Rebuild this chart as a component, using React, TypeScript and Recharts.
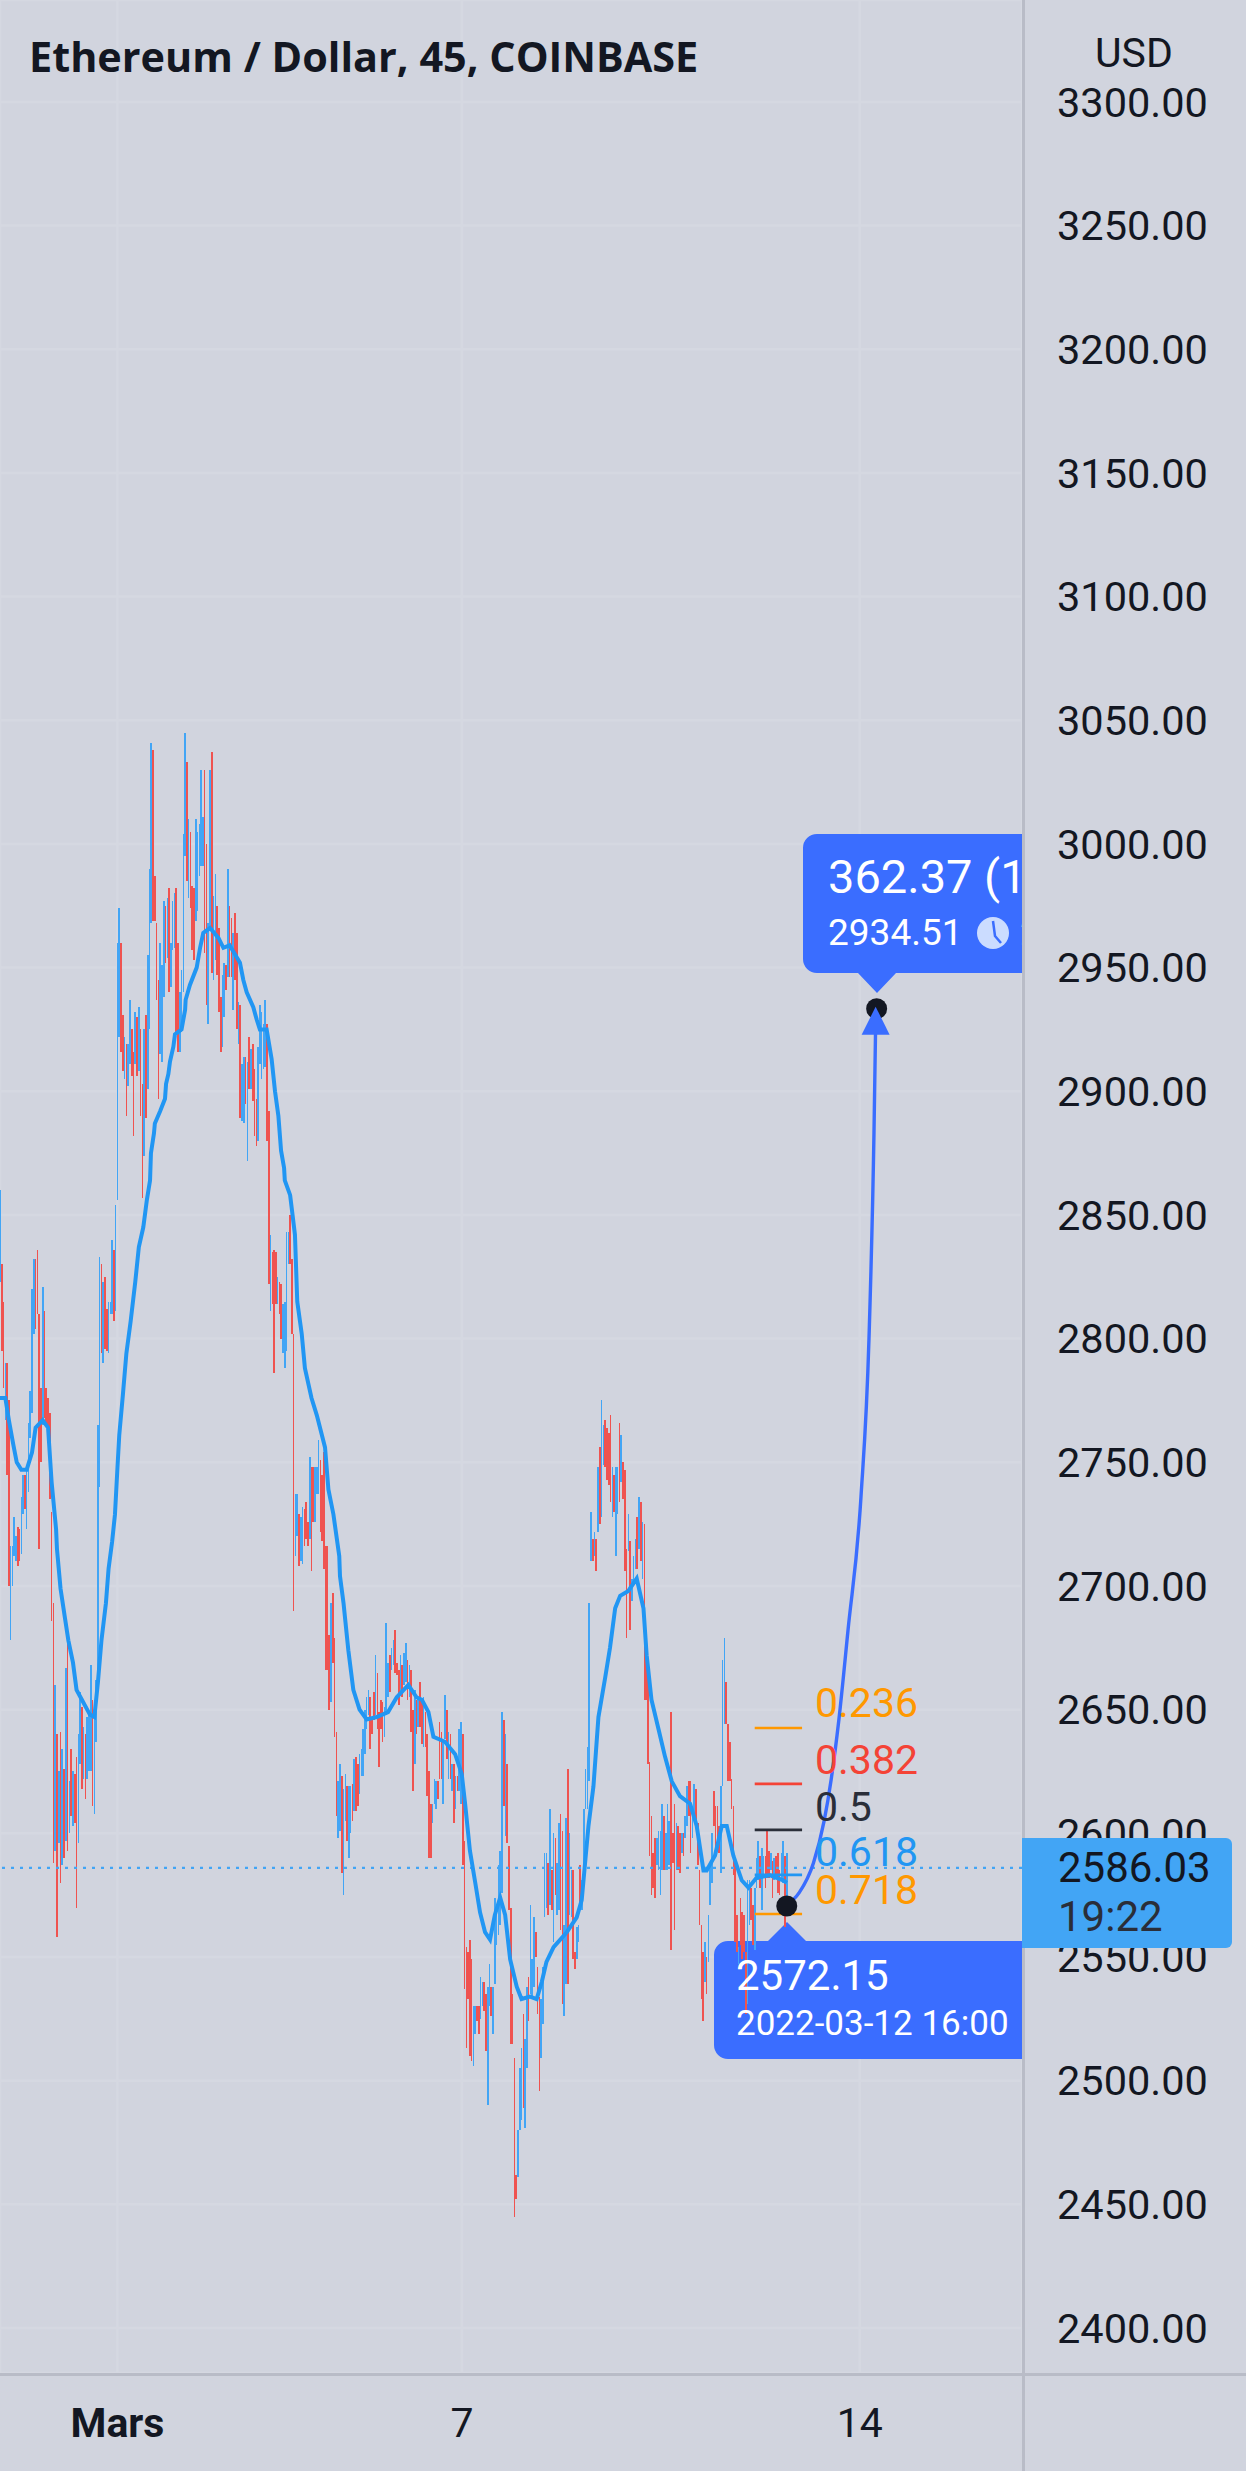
import { Bar, CartesianGrid, ComposedChart, Line, ReferenceDot, ReferenceLine, XAxis, YAxis } from 'recharts'

const BG = '#d1d4de'
const GRID = '#d5d8e1'
const AXIS = '#b9bcc7'
const UP = '#42a5f5'
const DOWN = '#ef5350'
const MA = '#2196f3'
const PIN = '#3a6dff'
const INK = '#131722'

const priceTicks = [2400, 2450, 2500, 2550, 2600, 2650, 2700, 2750, 2800, 2850, 2900, 2950, 3000, 3050, 3100, 3150, 3200, 3250, 3300]
const timeTicks = [66, 259.5, 483]
const timeLabels = ['Mars', '7', '14']

const opens = [
  2830,2830,2815,2767,2790,2770,2691,2700,2712,2710,
  2724,2723,2713,2729,2745,2738,2738,2770,2770,2802,
  2832,2836,2780,2780,2775,2811,2780,2776,2770,2730,
  2693,2593,2640,2596,2641,2587,2626,2597,2643,2600,
  2634,2603,2624,2631,2596,2628,2651,2622,2640,2628,
  2625,2636,2654,2608,2637,2740,2788,2830,2790,2825,
  2812,2794,2810,2810,2836,2811,2895,2922,2960,2931,
  2905,2919,2902,2911,2925,2916,2911,2930,2908,2925,
  2903,2874,2931,2901,2925,2971,3038,2987,2968,2945,
  2915,2912,2938,2975,2954,2982,2942,2957,2958,2982,
  2960,2916,2924,2940,2995,3033,2978,3005,2983,2982,
  2969,2973,2987,2991,2991,3001,3000,2927,2965,3037,
  2945,2953,2975,2966,2938,2918,2930,2951,2946,2975,
  2970,2933,2972,2964,2919,2935,2888,2887,2914,2905,
  2922,2901,2919,2909,2897,2880,2911,2905,2909,2910,
  2927,2892,2811,2835,2836,2835,2814,2823,2822,2794,
  2788,2795,2830,2850,2832,2802,2712,2720,2729,2710,
  2709,2731,2734,2726,2719,2748,2748,2726,2737,2737,
  2751,2745,2754,2716,2716,2680,2653,2697,2679,2641,
  2598,2601,2623,2575,2605,2619,2590,2600,2620,2609,
  2631,2628,2616,2623,2623,2632,2642,2648,2655,2647,
  2657,2648,2665,2649,2654,2653,2639,2648,2655,2672,
  2666,2668,2682,2669,2666,2657,2668,2660,2661,2670,
  2655,2666,2650,2628,2654,2643,2661,2654,2635,2649,
  2640,2625,2612,2604,2612,2610,2621,2645,2641,2612,
  2638,2650,2622,2640,2617,2628,2610,2623,2617,2612,
  2640,2597,2554,2552,2547,2549,2506,2519,2530,2530,
  2525,2530,2540,2535,2520,2530,2538,2519,2539,2555,
  2559,2563,2610,2646,2599,2628,2595,2570,2535,2509,
  2462,2461,2480,2484,2527,2481,2505,2542,2535,2534,
  2538,2560,2546,2534,2509,2523,2566,2570,2588,2571,
  2585,2556,2598,2567,2569,2608,2601,2526,2539,2626,
  2567,2566,2585,2552,2549,2556,2587,2569,2581,2610,
  2610,2686,2710,2719,2712,2719,2722,2756,2728,2749,
  2767,2764,2762,2769,2728,2745,2712,2729,2766,2742,
  2750,2747,2715,2714,2718,2694,2702,2707,2728,2715,
  2734,2703,2725,2675,2668,2629,2607,2592,2598,2587,
  2585,2575,2585,2607,2585,2585,2587,2620,2600,2612,
  2585,2603,2600,2592,2600,2598,2603,2621,2621,2598,
  2606,2618,2604,2585,2563,2552,2540,2550,2548,2571,
  2580,2617,2611,2611,2603,2584,2619,2644,2661,2644,
  2637,2622,2611,2589,2567,2547,2574,2568,2567,2552,
  2531,2563,2578,2571,2553,2578,2581,2591,2569,2582,
  2591,2601,2593,2585,2589,2581,2591,2592,2585,2582,2580,2591,2573,
]

const closes = [
  2850,2795,2780,2790,2745,2760,2715,2716,2728,2720,
  2708,2710,2736,2745,2731,2745,2766,2779,2820,2832,
  2804,2810,2748,2750,2790,2768,2765,2764,2735,2686,
  2588,2660,2588,2625,2580,2634,2590,2667,2595,2621,
  2607,2625,2604,2604,2640,2657,2630,2643,2614,2647,
  2648,2645,2611,2650,2662,2765,2819,2794,2823,2796,
  2795,2815,2815,2840,2807,2854,2927,2974,2916,2908,
  2922,2890,2919,2937,2906,2882,2932,2906,2934,2890,
  2857,2925,2889,2955,2990,2990,2969,2969,2937,2897,
  2960,2951,2977,2952,2978,2940,2960,2977,2980,2924,
  2916,2940,2949,3004,3032,2985,3010,2974,2957,2953,
  3010,3005,3008,3011,3011,2956,2935,2968,3030,2948,
  2979,2985,2947,2932,2916,2947,2952,2941,2990,2946,
  2946,2964,2945,2925,2936,2889,2911,2914,2895,2912,
  2901,2917,2896,2882,2878,2918,2935,2932,2927,2937,
  2880,2822,2842,2814,2814,2814,2825,2810,2800,2814,
  2815,2843,2843,2830,2802,2690,2737,2737,2708,2728,
  2732,2716,2719,2716,2752,2706,2726,2748,2748,2759,
  2722,2718,2707,2666,2666,2650,2693,2669,2639,2607,
  2621,2628,2584,2618,2624,2597,2619,2619,2605,2630,
  2609,2611,2632,2634,2642,2650,2655,2658,2634,2640,
  2646,2672,2642,2627,2642,2637,2651,2685,2669,2657,
  2675,2678,2665,2664,2652,2672,2655,2673,2677,2654,
  2668,2641,2617,2658,2640,2655,2643,2636,2655,2635,
  2615,2590,2590,2612,2622,2621,2614,2622,2622,2637,
  2656,2630,2641,2622,2628,2604,2623,2617,2642,2645,
  2587,2537,2513,2533,2535,2508,2530,2530,2524,2519,
  2542,2540,2528,2512,2530,2547,2526,2538,2574,2568,
  2587,2593,2649,2611,2640,2596,2569,2515,2515,2445,
  2452,2480,2505,2513,2489,2517,2538,2524,2571,2549,
  2566,2550,2527,2496,2533,2546,2592,2592,2567,2610,
  2569,2600,2575,2588,2604,2561,2531,2563,2606,2539,
  2600,2585,2549,2545,2562,2563,2572,2581,2610,2626,
  2635,2693,2730,2710,2722,2706,2748,2725,2770,2765,
  2748,2743,2741,2734,2748,2730,2748,2748,2734,2761,
  2735,2706,2679,2729,2682,2703,2712,2719,2707,2736,
  2710,2726,2654,2654,2628,2591,2575,2578,2574,2598,
  2601,2601,2612,2585,2600,2612,2605,2590,2588,2561,
  2604,2585,2584,2600,2591,2607,2619,2607,2592,2610,
  2620,2604,2587,2563,2533,2524,2556,2535,2567,2587,
  2600,2603,2592,2594,2592,2619,2670,2679,2644,2621,
  2621,2610,2583,2556,2552,2554,2555,2549,2552,2527,
  2581,2581,2565,2555,2578,2590,2597,2578,2594,2591,
  2578,2582,2582,2592,2574,2590,2583,2576,2575,2592,2597,2562,2592,
]

// only the candles whose wick clearly sticks out of the body
const highWicks: Record<number, number> = {
  0: 2860, 5: 2775, 6: 2716, 15: 2748, 22: 2810, 24: 2821, 38: 2680, 51: 2668, 56: 2833, 66: 2960,
  85: 3041, 104: 3045, 113: 3030, 115: 3030, 121: 2988, 264: 2557, 274: 2538, 338: 2775, 377: 2649,
}
const lowWicks: Record<number, number> = {
  0: 2823, 5: 2700, 6: 2678, 15: 2723, 17: 2760, 22: 2715, 24: 2765, 32: 2558, 38: 2593, 43: 2570,
  46: 2618, 49: 2622, 51: 2625, 55: 2662, 56: 2740, 66: 2856, 85: 2968, 139: 2872, 154: 2786,
  264: 2510, 274: 2490, 282: 2576, 331: 2621, 377: 2553,
}

const maIndex = [
  0,3,5,7.5,9.4,12,15,18,20,24,27,29,31.5,32,34,36.5,38.4,41,43,46,50.5,53,55,57,59.5,61,63,64.6,66,67,69,71,73.4,76,78,80.5,82.5,
  84.3,84.8,86.5,87,90,92.7,93.3,94.6,95.5,97.4,98.3,102,104,104.3,106.7,110.5,112.4,114.2,118,122.7,125.5,129,134.8,136.7,138.6,142.3,144.2,146,149.8,152.6,154.5,156.4,157.9,159.6,160,163,
  165.7,167,169.5,171.3,175,178,182.6,184.5,187.3,190.6,191,193,195.7,198.5,202,206,211.6,218,222.9,229.4,234,
  237,240.7,243.5,250,255.7,259.4,261.3,264,267,269.7,272.5,275.3,278,281,283.8,286.6,290.3,293,297.8,301.5,304.4,307,311,318.4,324,326.8,330.6,333.4,336.2,340,342.7,345.6,348.4,353,357.7,361.5,363.3,366,370,373.6,377.4,382,387.7,391.4,395.2,397,401.7,405.5,408.3,412,416.7,420.5,425,432.7,440,442,
]
const maValues = [
  2776,2776,2767,2757,2750,2747,2747,2754,2764,2767,2764,2742,2723,2715,2699,2687,2678,2669,2658,2654,2648,2647,2661,2678,2693,2707,2718,2729,2748,2761,2777,2794,2807,2823,2837,2845,2856,
  2864,2875,2883,2887,2892,2897,2903,2907,2912,2918,2923,2925,2933,2937,2943,2950,2958,2964,2966,2962,2958,2959,2952,2945,2940,2934,2929,2925,2925,2913,2900,2890,2876,2869,2864,2858,
  2842,2815,2802,2788,2776,2769,2756,2739,2729,2712,2704,2693,2674,2658,2650,2646,2647,2649,2655,2660,2655,
  2654,2649,2639,2637,2632,2624,2612,2593,2580,2568,2560,2557,2567,2574,2567,2549,2538,2533,2534,2533,2540,2548,2554,2560,2566,2573,2603,2619,2647,2663,2675,2691,2696,2698,2703,2691,2672,2654,2642,2631,2621,2615,2612,2603,2585,2585,2591,2603,2603,2591,2581,2578,2582,2583,2581,2580,
]

const arrowIndex = [442, 449, 457, 463, 467, 471.3, 476.4, 483.7, 488.2, 491, 492]
const arrowPrices = [2571, 2576, 2588, 2605, 2622, 2646, 2682, 2736, 2800, 2883, 2930]

const fibLevels = [2642.6, 2620, 2601.4, 2583.2, 2567.4]
const fibColors = ['#ff9800', '#f44336', '#2a2e39', '#2196f3', '#ff9800']
const fibLabels = ['0.236', '0.382', '0.5', '0.618', '0.718']
const fibLabelY = [1717, 1774, 1821, 1866, 1904]

const lastPrice = 2586.03
const entryPrice = 2570.6
const targetPrice = 2933.4
const entryIndex = 442
const targetIndex = 492.5

const candles = opens.map((open, i) => {
  const close = closes[i]
  const top = Math.max(open, close)
  const bottom = Math.min(open, close)
  return { i, open, close, top, bottom, high: highWicks[i] ?? top, low: lowWicks[i] ?? bottom }
})
const maPoints = maIndex.map((i, n) => ({ i, price: maValues[n] }))
const arrowPoints = arrowIndex.map((i, n) => ({ i, price: arrowPrices[n] }))

function Candle(props: any) {
  const { x, y, width, height, payload } = props
  const span = payload.high - payload.low || 1
  const bodyY = y + ((payload.high - payload.top) / span) * height
  const bodyH = Math.max(((payload.top - payload.bottom) / span) * height, 1)
  const color = payload.close >= payload.open ? UP : DOWN
  return (
    <g shapeRendering="crispEdges">
      <rect x={x + width / 2 - 0.8} y={y} width={1.6} height={height} fill={color} />
      <rect x={x} y={bodyY} width={width} height={bodyH} fill={color} />
    </g>
  )
}

function TimeTick(props: any) {
  const { x, payload, index } = props
  return (
    <text x={x} y={2437} textAnchor="middle" fontFamily="Roboto" fontSize={41} fontWeight={index === 0 ? 700 : 400} fill={INK}>
      {timeLabels[index] ?? payload.value}
    </text>
  )
}

function Pin(props: any) {
  return <circle cx={props.cx} cy={props.cy} r={10.5} fill={INK} />
}

function ArrowHead(props: any) {
  const { cx, cy } = props
  return <polygon points={`${cx - 1},${cy - 2} ${cx + 13},${cy + 26} ${cx - 15},${cy + 26}`} fill={PIN} />
}

export default function App() {
  return (
    <div style={{ position: 'absolute', left: 0, top: 0, width: 1246, height: 2471, background: BG, overflow: 'hidden' }}>
      <ComposedChart width={1246} height={2471} data={candles} margin={{ top: 0, right: 0, bottom: 0, left: 0 }}>
        <CartesianGrid stroke={GRID} strokeWidth={2.5} />
        <XAxis
          dataKey="i"
          type="number"
          scale="linear"
          domain={[0, 574.16]}
          ticks={timeTicks}
          interval={0}
          height={98}
          axisLine={false}
          tickLine={false}
          tick={<TimeTick />}
          allowDataOverflow
        />
        <YAxis
          orientation="right"
          type="number"
          domain={[2381.8, 3341.2]}
          ticks={priceTicks}
          interval={0}
          width={224}
          axisLine={false}
          tickLine={false}
          tickSize={0}
          tickMargin={35}
          tick={{ fontFamily: 'Roboto', fontSize: 41.5, fill: INK }}
          tickFormatter={(v: number) => v.toFixed(2)}
          allowDataOverflow
        />
        {/* the candles sit on top of this callout in the reference */}
        <path
          d="M714 1955 a14 14 0 0 1 14 -14 H768 L787 1922 L806 1941 H1022 V2059 H728 a14 14 0 0 1 -14 -14 Z"
          fill={PIN}
        />
        <ReferenceLine y={lastPrice} stroke={UP} strokeWidth={2.2} strokeDasharray="3 6" />
        <Bar dataKey={(d: any) => [d.low, d.high]} barSize={3} shape={<Candle />} isAnimationActive={false} />
        <Line data={maPoints} dataKey="price" stroke={MA} strokeWidth={4} dot={false} type="linear" isAnimationActive={false} />
        {fibLevels.map((level, n) => (
          <ReferenceLine
            key={fibLabels[n]}
            segment={[{ x: 424, y: level }, { x: 450.6, y: level }]}
            stroke={fibColors[n]}
            strokeWidth={2.6}
          />
        ))}
        <Line data={arrowPoints} dataKey="price" stroke={PIN} strokeWidth={3.4} dot={false} type="monotone" isAnimationActive={false} />
        <ReferenceDot x={entryIndex} y={entryPrice} shape={<Pin />} />
        <ReferenceDot x={targetIndex} y={targetPrice} shape={<Pin />} />
        <ReferenceDot x={targetIndex} y={targetPrice} shape={<ArrowHead />} />
      </ComposedChart>

      <svg width={1246} height={2471} style={{ position: 'absolute', left: 0, top: 0 }}>
        <rect x={0} y={2373} width={1246} height={3} fill={AXIS} />
        <rect x={1022} y={0} width={3} height={2471} fill={AXIS} />

        <text x={29} y={72} fontFamily="Open Sans" fontSize={41.4} fontWeight={700} fill={INK}>
          Ethereum / Dollar, 45, COINBASE
        </text>
        <text x={1095} y={67} fontFamily="Roboto" fontSize={41} fill={INK}>USD</text>

        {fibLabels.map((label, n) => (
          <text key={label} x={815} y={fibLabelY[n]} fontFamily="Roboto" fontSize={41} fill={fibColors[n]}>{label}</text>
        ))}

        {/* target callout, cut off by the price scale */}
        <svg x={0} y={0} width={1022} height={2373}>
          <path
            d="M803 848 a14 14 0 0 1 14 -14 H1040 V973 H896 L877 993 L858 973 H817 a14 14 0 0 1 -14 -14 Z"
            fill={PIN}
          />
          <text x={828} y={893} fontFamily="Roboto" fontSize={47} fill="#fff">362.37 (14.09%)</text>
          <text x={828} y={945} fontFamily="Roboto" fontSize={37} fill="#fff">2934.51</text>
          <circle cx={993} cy={933} r={16} fill="#cbdcff" />
          <path d="M993 921 L995 936 L1001 943" stroke={PIN} strokeWidth={2.5} fill="none" />
          <text x={1020} y={945} fontFamily="Roboto" fontSize={37} fill="#fff">2</text>
          <text x={736} y={1990} fontFamily="Roboto" fontSize={42} fill="#fff">2572.15</text>
          <text x={736} y={2035} fontFamily="Roboto" fontSize={35} fill="#fff">2022-03-12 16:00</text>
        </svg>

        <path d="M1022 1838 H1226 a6 6 0 0 1 6 6 V1942 a6 6 0 0 1 -6 6 H1022 Z" fill={UP} />
        <text x={1058} y={1882} fontFamily="Roboto" fontSize={42} fill={INK}>2586.03</text>
        <text x={1058} y={1931} fontFamily="Roboto" fontSize={42} fill="#2a2e39">19:22</text>
      </svg>
    </div>
  )
}
